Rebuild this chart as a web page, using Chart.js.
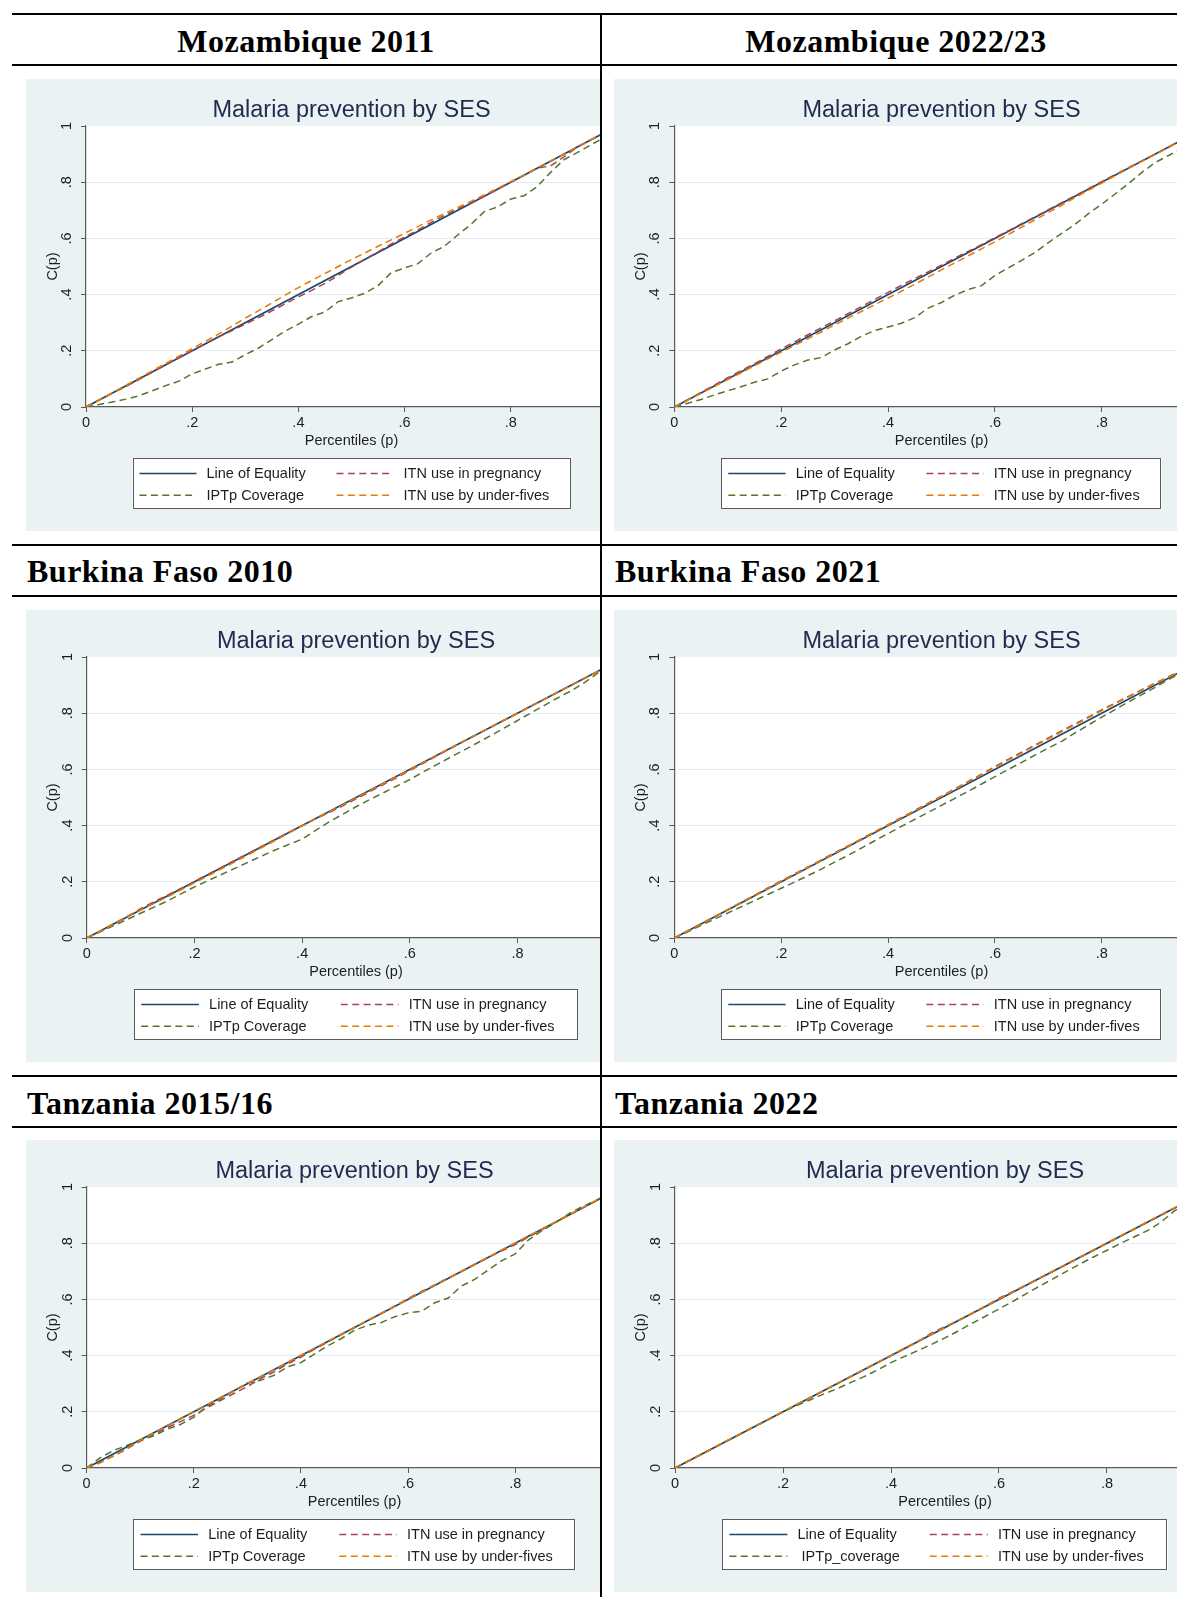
<!DOCTYPE html>
<html>
<head>
<meta charset="utf-8">
<title>Malaria prevention by SES – concentration curves</title>
<script src="https://cdn.jsdelivr.net/npm/chart.js@4.4.1/dist/chart.umd.min.js"></script>
<style>
  html, body { margin: 0; padding: 0; background: #fff; overflow: hidden; }
  #page { position: relative; width: 1177px; height: 1597px; overflow: hidden; background: #fff; }
  .rule { position: absolute; background: #000; z-index: 5; }
  .hdr { position: absolute; font-family: 'Liberation Serif', 'Times New Roman', serif; font-weight: bold;
         font-size: 32px; line-height: 40px; letter-spacing: 0.5px; color: #000; white-space: nowrap; }
  .cell { position: absolute; height: 452px; overflow: hidden; background: #eaf2f3; }
  .cell canvas { position: absolute; left: 0; top: 0; }
</style>
</head>
<body>
<div id="page"></div>
<script>
// ---- percentile grid shared by the concentration curves ----
const PCT = [0, .025, .05, .075, .1, .125, .15, .175, .2, .225, .25, .275, .3, .325, .35, .375, .4, .425, .45, .475,
             .5, .525, .55, .575, .6, .625, .65, .675, .7, .725, .75, .775, .8, .825, .85, .875, .9, .925, .95, .975, 1];

// line of equality
const EQ_P = [0, 1];
const EQ_C = [0, 1];

// Mozambique 2011
const MOZ11_ITN_PREG = [0,.025,.050,.073,.098,.124,.150,.176,.201,.226,.250,.272,.295,.318,.342,.367,.392,.415,.440,.468,.498,.525,.552,.580,.605,.630,.657,.682,.705,.727,.750,.775,.800,.825,.850,.858,.890,.925,.950,.975,1];
const MOZ11_IPTP     = [0,.009,.018,.028,.040,.058,.076,.092,.118,.135,.152,.160,.186,.210,.240,.270,.295,.322,.338,.375,.388,.405,.432,.478,.495,.510,.548,.572,.612,.650,.695,.712,.740,.752,.785,.835,.880,.905,.932,.958,1];
const MOZ11_ITN_U5   = [0,.025,.051,.077,.103,.129,.155,.181,.208,.234,.260,.288,.316,.343,.370,.398,.425,.450,.475,.500,.525,.548,.572,.595,.618,.642,.666,.688,.710,.732,.755,.778,.802,.826,.851,.876,.900,.925,.950,.975,1];

// Mozambique 2022/23
const MOZ22_ITN_PREG = [0,.026,.052,.078,.104,.129,.154,.180,.207,.232,.257,.282,.307,.332,.357,.383,.408,.433,.457,.481,.505,.530,.554,.578,.602,.627,.652,.677,.702,.727,.752,.777,.802,.827,.852,.876,.900,.925,.950,.975,1];
const MOZ22_IPTP     = [0,.013,.027,.043,.058,.072,.088,.100,.128,.150,.167,.176,.203,.225,.252,.272,.285,.298,.318,.352,.372,.398,.418,.432,.468,.495,.522,.550,.585,.618,.650,.688,.722,.758,.795,.835,.870,.895,.922,.955,1];
const MOZ22_ITN_U5   = [0,.024,.049,.073,.098,.122,.147,.171,.195,.219,.243,.267,.292,.316,.340,.364,.388,.412,.437,.462,.488,.513,.538,.563,.588,.614,.640,.666,.692,.718,.745,.771,.797,.823,.849,.874,.899,.924,.950,.975,1];

// Burkina Faso 2010
const BF10_ITN_PREG = [0,.025,.051,.077,.104,.129,.152,.176,.201,.226,.251,.276,.301,.326,.351,.376,.400,.424,.446,.470,.495,.520,.545,.570,.596,.622,.648,.674,.700,.725,.750,.775,.800,.825,.850,.875,.900,.925,.950,.975,1];
const BF10_IPTP     = [0,.022,.044,.066,.088,.110,.132,.157,.182,.204,.226,.248,.270,.292,.313,.333,.352,.383,.413,.440,.467,.492,.516,.540,.564,.591,.617,.643,.668,.694,.720,.747,.774,.801,.828,.855,.880,.910,.944,.972,1];
const BF10_ITN_U5   = [0,.025,.050,.075,.100,.124,.146,.171,.196,.221,.246,.271,.296,.322,.347,.373,.399,.424,.449,.474,.499,.524,.549,.574,.599,.624,.650,.675,.700,.725,.750,.775,.800,.825,.850,.875,.900,.925,.950,.975,1];

// Burkina Faso 2021
const BF21_ITN_PREG = [0,.025,.051,.076,.101,.127,.152,.178,.203,.228,.253,.278,.303,.328,.353,.378,.403,.429,.454,.480,.505,.531,.557,.583,.610,.636,.661,.687,.712,.737,.762,.787,.812,.836,.860,.884,.907,.930,.953,.976,1];
const BF21_IPTP     = [0,.022,.045,.067,.089,.111,.133,.155,.177,.199,.222,.245,.270,.294,.320,.346,.372,.397,.422,.447,.472,.497,.522,.548,.574,.600,.625,.651,.676,.700,.730,.758,.786,.813,.840,.866,.892,.920,.946,.973,1];
const BF21_ITN_U5   = [0,.025,.050,.076,.101,.126,.151,.176,.201,.226,.251,.276,.301,.326,.351,.377,.402,.427,.452,.478,.503,.529,.555,.581,.607,.633,.658,.684,.709,.734,.759,.784,.809,.834,.858,.882,.905,.928,.952,.976,1];

// Tanzania 2015/16
const TZ16_ITN_PREG = [0,.020,.042,.068,.095,.120,.143,.165,.187,.215,.240,.265,.290,.318,.342,.370,.395,.422,.448,.474,.500,.525,.550,.576,.603,.628,.652,.676,.700,.725,.750,.773,.795,.822,.848,.874,.900,.925,.950,.975,1];
const TZ16_IPTP     = [0,.036,.062,.080,.100,.114,.138,.155,.180,.220,.245,.275,.303,.312,.330,.360,.375,.405,.435,.460,.490,.508,.518,.538,.552,.558,.588,.605,.648,.672,.705,.738,.762,.812,.845,.872,.905,.930,.952,.975,1];
const TZ16_ITN_U5   = [0,.018,.042,.070,.098,.124,.150,.176,.201,.226,.251,.276,.301,.326,.351,.376,.401,.426,.451,.476,.501,.526,.551,.576,.601,.626,.651,.676,.701,.726,.751,.776,.801,.826,.851,.876,.901,.926,.951,.976,1];

// Tanzania 2022
const TZ22_ITN_PREG = [0,.025,.050,.075,.100,.125,.150,.175,.200,.225,.250,.275,.300,.325,.350,.375,.400,.425,.451,.480,.503,.526,.550,.576,.604,.627,.651,.676,.700,.725,.750,.775,.800,.825,.850,.875,.900,.925,.950,.975,1];
const TZ22_IPTP     = [0,.025,.050,.075,.100,.125,.150,.175,.200,.222,.242,.263,.282,.304,.325,.349,.375,.397,.418,.440,.463,.488,.515,.540,.566,.592,.620,.647,.673,.700,.726,.751,.775,.799,.822,.845,.875,.915,.945,.972,1];
const TZ22_ITN_U5   = [0,.025,.050,.076,.101,.126,.151,.176,.201,.226,.251,.276,.301,.326,.351,.376,.401,.426,.451,.476,.501,.526,.551,.576,.601,.626,.651,.676,.701,.726,.751,.776,.801,.826,.851,.876,.901,.926,.951,.976,1];

// ---- text ----
const HEADERS = ['Mozambique 2011', 'Mozambique 2022/23', 'Burkina Faso 2010', 'Burkina Faso 2021', 'Tanzania 2015/16', 'Tanzania 2022'];
const CHART_TITLE = 'Malaria prevention by SES';
const X_TITLE = 'Percentiles (p)';
const Y_TITLE = 'C(p)';
const SERIES_LABELS = ['Line of Equality', 'ITN use in pregnancy', 'IPTp Coverage', 'ITN use by under-fives'];
const IPTP_LABEL_ALT = ' IPTp_coverage';
const TICK_VALUES = [0, .2, .4, .6, .8, 1];
const TICK_LABELS = ['0', '.2', '.4', '.6', '.8', '1'];

// ---- styling ----
const COLORS = { eq: '#1a476f', preg: '#a8434f', iptp: '#55752f', u5: '#e37e00' };
const DASH = [7, 4.4];
const BG = '#eaf2f3';
const GRID = '#e3ebee';
const AXIS = '#5a5a5a';
const TEXT = '#1e1e1e';
const TITLE_COLOR = '#1f2b4f';

Chart.defaults.font.family = "'Liberation Sans', Arial, Helvetica, sans-serif";

// ---- page frame: rules and headers ----
const page = document.getElementById('page');
function rule(left, top, width, height) {
  const d = document.createElement('div');
  d.className = 'rule';
  Object.assign(d.style, { left: left + 'px', top: top + 'px', width: width + 'px', height: height + 'px' });
  page.appendChild(d);
}
[13, 64, 544, 595, 1075, 1126].forEach(y => rule(12, y, 1165, 2));
rule(600, 13, 2, 1584);

function header(text, opts) {
  const d = document.createElement('div');
  d.className = 'hdr';
  d.textContent = text;
  d.style.top = opts.top + 'px';
  d.style.left = opts.left + 'px';
  if (opts.width) { d.style.width = opts.width + 'px'; d.style.textAlign = 'center'; }
  page.appendChild(d);
}
header(HEADERS[0], { left: 12, width: 588, top: 21 });
header(HEADERS[1], { left: 602, width: 588, top: 21 });
header(HEADERS[2], { left: 27, top: 551 });
header(HEADERS[3], { left: 615, top: 551 });
header(HEADERS[4], { left: 27, top: 1083 });
header(HEADERS[5], { left: 615, top: 1083 });

// ---- plugins ----
const plotBackground = {
  id: 'plotBackground',
  beforeDraw(chart) {
    const { ctx, chartArea: a, width, height } = chart;
    ctx.save();
    ctx.fillStyle = BG;
    ctx.fillRect(0, 0, width, height);
    ctx.fillStyle = '#fff';
    ctx.fillRect(a.left, a.top, a.right - a.left, a.bottom - a.top);
    ctx.restore();
  }
};

// boxed 2x2 legend below the x-axis title
const boxLegend = {
  id: 'boxLegend',
  afterDraw(chart, args, opts) {
    const { ctx, chartArea: a } = chart;
    const sx = opts.sx;
    const w = 438 * sx, h = 51;
    const x0 = (a.left + a.right) / 2 - w / 2;
    const y0 = opts.top;
    ctx.save();
    ctx.fillStyle = '#fff';
    ctx.fillRect(x0, y0, w, h);
    ctx.strokeStyle = AXIS;
    ctx.lineWidth = 1;
    ctx.setLineDash([]);
    ctx.strokeRect(Math.round(x0) + 0.5, Math.round(y0) + 0.5, Math.round(w) - 1, h - 1);
    ctx.font = "14.5px 'Liberation Sans', Arial, sans-serif";
    ctx.textBaseline = 'middle';
    ctx.textAlign = 'left';
    chart.data.datasets.forEach((ds, i) => {
      const col = i % 2, row = Math.floor(i / 2);
      const y = y0 + 15.5 + row * 21.7;
      const sxStart = x0 + (7 + col * 197) * sx;
      ctx.strokeStyle = ds.borderColor;
      ctx.lineWidth = ds.borderWidth;
      ctx.setLineDash(ds.borderDash || []);
      ctx.beginPath();
      ctx.moveTo(sxStart, y);
      ctx.lineTo(sxStart + 57 * sx, y);
      ctx.stroke();
      ctx.fillStyle = TEXT;
      ctx.fillText(ds.label, x0 + (74 + col * 197) * sx, y + 0.5);
    });
    ctx.restore();
  }
};

// ---- panels ----
const PANELS = [
  { left: 26,  top: 79,   width: 574, unit: 531, preg: MOZ11_ITN_PREG, iptp: MOZ11_IPTP, u5: MOZ11_ITN_U5, iptpLabel: SERIES_LABELS[2] },
  { left: 614, top: 79,   width: 563, unit: 534, preg: MOZ22_ITN_PREG, iptp: MOZ22_IPTP, u5: MOZ22_ITN_U5, iptpLabel: SERIES_LABELS[2] },
  { left: 26,  top: 610,  width: 574, unit: 538, preg: BF10_ITN_PREG,  iptp: BF10_IPTP,  u5: BF10_ITN_U5,  iptpLabel: SERIES_LABELS[2] },
  { left: 614, top: 610,  width: 563, unit: 534, preg: BF21_ITN_PREG,  iptp: BF21_IPTP,  u5: BF21_ITN_U5,  iptpLabel: SERIES_LABELS[2] },
  { left: 26,  top: 1140, width: 574, unit: 536, preg: TZ16_ITN_PREG,  iptp: TZ16_IPTP,  u5: TZ16_ITN_U5,  iptpLabel: SERIES_LABELS[2] },
  { left: 614, top: 1140, width: 563, unit: 540, preg: TZ22_ITN_PREG,  iptp: TZ22_IPTP,  u5: TZ22_ITN_U5,  iptpLabel: IPTP_LABEL_ALT }
];

const points = (xs, ys) => xs.map((x, i) => ({ x, y: ys[i] }));
const series = (label, data, color, dash, order) => ({
  label, data, showLine: true, fill: false, tension: 0,
  borderColor: color, backgroundColor: color, borderWidth: dash.length ? 1.5 : 1.7, borderDash: dash,
  pointRadius: 0, pointHoverRadius: 0, order
});

PANELS.forEach(p => {
  const sx = p.unit / 531;
  const H = 452;
  const side = 60 * sx;                 // room for the y axis, mirrored on the right
  const W = Math.round(2 * side + p.unit);
  const cell = document.createElement('div');
  cell.className = 'cell';
  Object.assign(cell.style, { left: p.left + 'px', top: p.top + 'px', width: p.width + 'px' });
  const canvas = document.createElement('canvas');
  canvas.width = W; canvas.height = H;
  canvas.style.width = W + 'px'; canvas.style.height = H + 'px';
  cell.appendChild(canvas);
  page.appendChild(cell);

  const tickFont = { size: 14.5 };
  new Chart(canvas, {
    type: 'scatter',
    data: {
      datasets: [
        series(SERIES_LABELS[0], points(EQ_P, EQ_C), COLORS.eq, [], 4),
        series(SERIES_LABELS[1], points(PCT, p.preg), COLORS.preg, DASH, 3),
        series(p.iptpLabel, points(PCT, p.iptp), COLORS.iptp, DASH, 2),
        series(SERIES_LABELS[3], points(PCT, p.u5), COLORS.u5, DASH, 1)
      ]
    },
    options: {
      responsive: false,
      animation: false,
      devicePixelRatio: 1,
      events: [],
      layout: { padding: 0 },
      plugins: {
        legend: { display: false },
        tooltip: { enabled: false },
        title: {
          display: true, text: CHART_TITLE, color: TITLE_COLOR,
          font: { size: 23.5, weight: 'normal' }, padding: { top: 17.6, bottom: 1.2 }
        },
        boxLegend: { sx, top: 379 }
      },
      scales: {
        x: {
          type: 'linear', min: 0, max: 1,
          afterBuildTicks: s => { s.ticks = TICK_VALUES.map(v => ({ value: v })); },
          afterFit: s => { s.height = 124; },
          ticks: { callback: (v, i) => TICK_LABELS[i], color: TEXT, font: tickFont, padding: 2,
                   autoSkip: false, minRotation: 0, maxRotation: 0 },
          grid: { drawOnChartArea: false, tickLength: 5, color: AXIS, tickColor: AXIS, lineWidth: 1 },
          border: { color: AXIS, width: 1.2 },
          title: { display: true, text: X_TITLE, color: TEXT, font: { size: 14.5 }, padding: { top: 0, bottom: 81.3 } }
        },
        y: {
          type: 'linear', min: 0, max: 1,
          afterBuildTicks: s => { s.ticks = TICK_VALUES.map(v => ({ value: v })); },
          afterFit: s => { s.width = side; },
          ticks: { callback: (v, i) => TICK_LABELS[i], color: TEXT, font: tickFont, padding: 8,
                   autoSkip: false, minRotation: 90, maxRotation: 90, crossAlign: 'center' },
          grid: {
            color: c => (c.tick && (c.tick.value === 0 || c.tick.value === 1)) ? 'rgba(0,0,0,0)' : GRID,
            tickColor: AXIS, tickLength: 5, lineWidth: 1
          },
          border: { color: AXIS, width: 1.2 },
          title: { display: true, text: Y_TITLE, color: TEXT, font: { size: 14.5 }, padding: { top: 18.6, bottom: 0 } }
        },
        // empty right-hand margin so the title centres over the plot
        yRight: {
          type: 'linear', position: 'right', min: 0, max: 1,
          afterFit: s => { s.width = side; },
          ticks: { display: false },
          grid: { display: false, drawTicks: false },
          border: { display: false },
          title: { display: false }
        }
      }
    },
    plugins: [plotBackground, boxLegend]
  });
});
</script>
</body>
</html>
